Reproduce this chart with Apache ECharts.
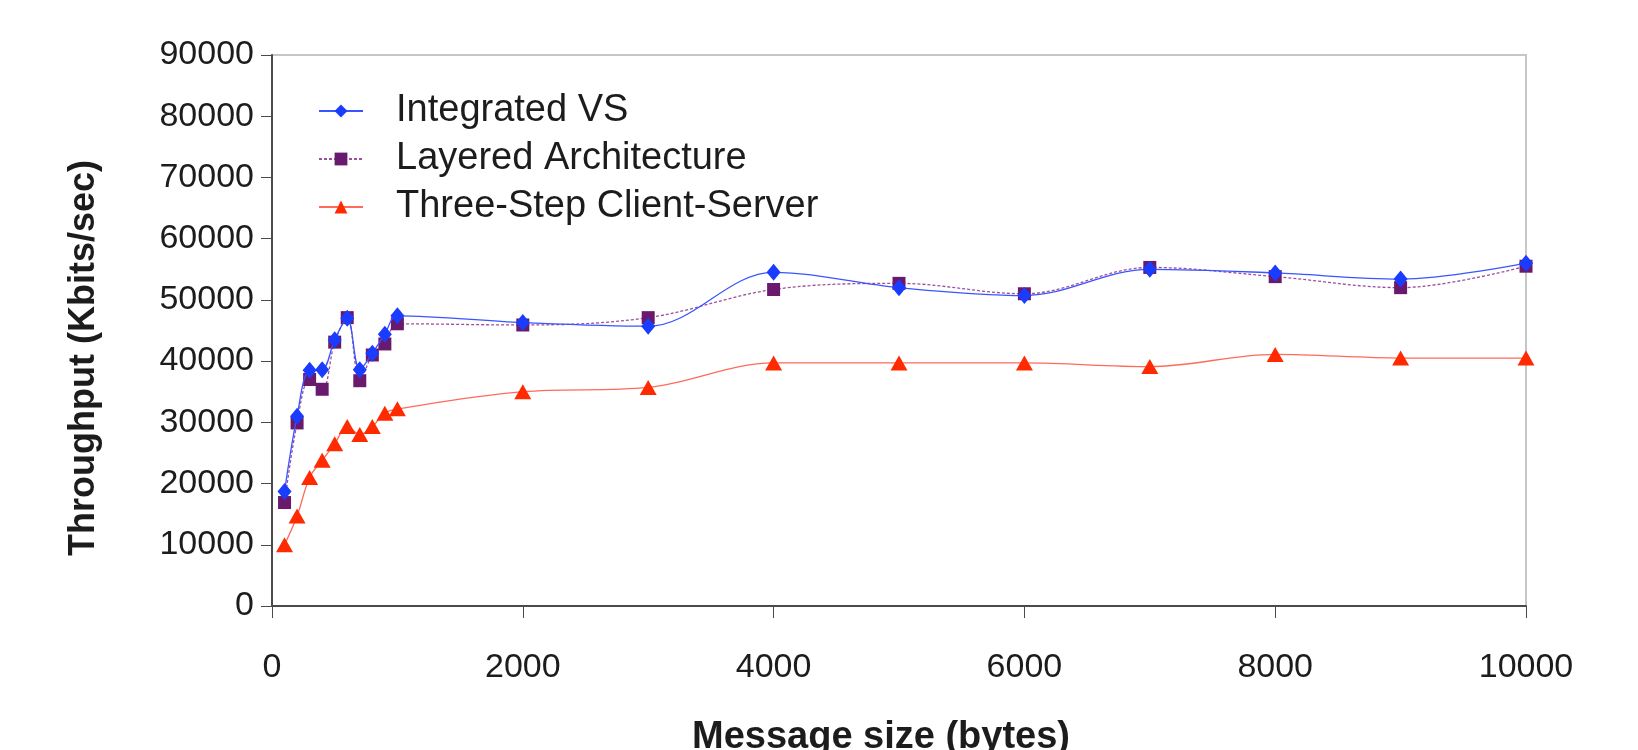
<!DOCTYPE html>
<html>
<head>
<meta charset="utf-8">
<script src="https://cdn.jsdelivr.net/npm/echarts@6/dist/echarts.min.js"></script>
<style>
  html, body { margin: 0; padding: 0; background: #ffffff; }
  #chart { width: 1638px; height: 750px; }
</style>
</head>
<body>
<div id="chart"></div>
<script>
// Message sizes in bytes (x positions of the measurements)
const messageSizes = [100, 200, 300, 400, 500, 600, 700, 800, 900, 1000,
                      2000, 3000, 4000, 5000, 6000, 7000, 8000, 9000, 10000];

// Throughput in Kbits/sec for each architecture
const integratedVS = [18700, 31000, 38500, 38600, 43500, 47000, 38600, 41300, 44400, 47400,
                      46300, 45700, 54500, 52000, 50700, 55000, 54400, 53400, 56000];
const layeredArch  = [16900, 29900, 37000, 35400, 43100, 47100, 36800, 41000, 42800, 46100,
                      45900, 47100, 51700, 52700, 51000, 55300, 53800, 52000, 55500];
const threeStepCS  = [10000, 14700, 21000, 23800, 26500, 29300, 28000, 29300, 31500, 32200,
                      35000, 35700, 39700, 39700, 39700, 39100, 41100, 40500, 40500];

const seriesNames = ['Integrated VS', 'Layered Architecture', 'Three-Step Client-Server'];

const pairs = (vals) => messageSizes.map((s, i) => [s, vals[i]]);

const FONT = '"Liberation Sans", Arial, Helvetica, sans-serif';
const TEXT = '#1c1c1c';
const plainNumber = (v) => String(v);

const chart = echarts.init(document.getElementById('chart'), null, { renderer: 'canvas' });

chart.setOption({
  backgroundColor: '#ffffff',
  animation: false,
  grid: {
    left: 272, right: 112, top: 55, bottom: 144,
    outerBoundsMode: 'none',
    containLabel: false,
    show: true, borderColor: '#c6c6c6', borderWidth: 2, backgroundColor: 'transparent'
  },
  legend: {
    orient: 'vertical',
    left: 313, top: 86,
    itemWidth: 44, itemHeight: 16, itemGap: 8,
    data: seriesNames,
    textStyle: {
      fontFamily: FONT, fontSize: 38, color: TEXT, lineHeight: 40,
      padding: [0, 0, 0, 28]
    }
  },
  xAxis: {
    type: 'value',
    min: 0, max: 10000, interval: 2000,
    name: 'Message size (bytes)',
    nameLocation: 'middle',
    nameGap: 113,
    nameTextStyle: { fontFamily: FONT, fontSize: 38, fontWeight: 'bold', color: TEXT, padding: [0, 36, 0, 0] },
    axisLine: { show: true, onZero: false, lineStyle: { color: '#4a4a4a', width: 2 } },
    axisTick: { show: true, length: 12, inside: false, lineStyle: { color: '#4a4a4a', width: 1 } },
    axisLabel: { fontFamily: FONT, fontSize: 34, color: TEXT, margin: 45, formatter: plainNumber },
    splitLine: { show: false }
  },
  yAxis: {
    type: 'value',
    min: 0, max: 90000, interval: 10000,
    name: 'Throughput (Kbits/sec)',
    nameLocation: 'middle',
    nameGap: 170,
    nameRotate: 90,
    nameTextStyle: { fontFamily: FONT, fontSize: 36, fontWeight: 'bold', color: TEXT, padding: [0, 55, 0, 0] },
    axisLine: { show: true, lineStyle: { color: '#4a4a4a', width: 2 } },
    axisTick: { show: true, length: 11, lineStyle: { color: '#4a4a4a', width: 1 } },
    axisLabel: { fontFamily: FONT, fontSize: 34, color: TEXT, margin: 18, formatter: plainNumber },
    splitLine: { show: false }
  },
  series: [
    {
      name: seriesNames[0],
      type: 'line',
      data: pairs(integratedVS),
      smooth: 0.35,
      symbol: 'diamond',
      symbolSize: [14, 17],
      itemStyle: { color: '#1a3cff' },
      lineStyle: { color: '#3a55ff', width: 1.3 },
      z: 3
    },
    {
      name: seriesNames[1],
      type: 'line',
      data: pairs(layeredArch),
      smooth: 0.35,
      symbol: 'rect',
      symbolSize: 13,
      itemStyle: { color: '#6a1a6e' },
      lineStyle: { color: '#9b4f9e', width: 1.3, type: [3, 2] },
      z: 2
    },
    {
      name: seriesNames[2],
      type: 'line',
      data: pairs(threeStepCS),
      smooth: 0.35,
      symbol: 'triangle',
      symbolSize: [17, 15],
      itemStyle: { color: '#ff2a00' },
      lineStyle: { color: '#ff6a5a', width: 1.3 },
      z: 1
    }
  ]
});
</script>
</body>
</html>
